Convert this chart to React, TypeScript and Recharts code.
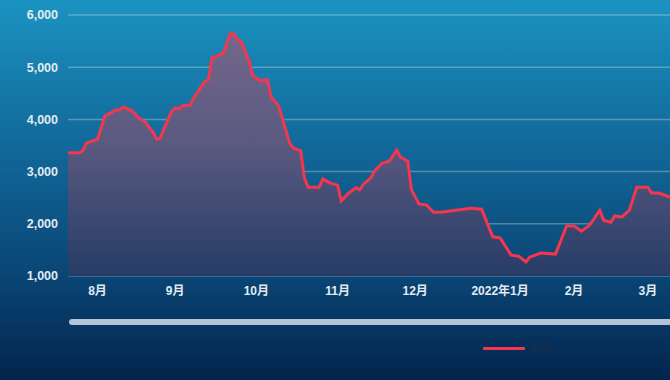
import React from 'react';
import { AreaChart, Area, XAxis, YAxis, CartesianGrid } from 'recharts';

// trading-day index and BDI close
const dayIndex = [
  0, 3, 4, 5, 8, 10, 11, 13, 14, 15,
  17, 18, 19, 21, 22, 23, 24, 25, 26, 28,
  29, 30, 31, 33, 34, 36, 37, 38, 39, 40,
  42, 44, 45, 46, 47, 48, 49, 50, 52, 54,
  55, 57, 60, 61, 63, 64, 65, 68, 69, 71,
  73, 74, 76, 78, 79, 80, 82, 83, 85, 87,
  89, 90, 92, 93, 95, 97, 99, 101, 109, 112,
  115, 117, 120, 122, 124, 125, 128, 132, 135, 137,
  139, 141, 142, 144, 145, 147, 148, 150, 152, 154,
  157, 158, 160, 163,
];
const bdi = [
  3360, 3360, 3400, 3550, 3620, 4070, 4100, 4180, 4180, 4240,
  4180, 4120, 4030, 3950, 3840, 3760, 3620, 3640, 3830, 4140,
  4220, 4200, 4260, 4270, 4410, 4620, 4720, 4760, 5180, 5200,
  5270, 5650, 5630, 5520, 5480, 5300, 5140, 4850, 4740, 4760,
  4430, 4260, 3550, 3450, 3400, 2880, 2700, 2700, 2860, 2780,
  2740, 2440, 2590, 2690, 2650, 2760, 2880, 3010, 3160, 3200,
  3410, 3280, 3200, 2650, 2380, 2360, 2220, 2220, 2300, 2280,
  1750, 1730, 1400, 1380, 1270, 1360, 1440, 1420, 1960, 1960,
  1860, 1960, 2050, 2260, 2070, 2030, 2150, 2130, 2260, 2700,
  2700, 2590, 2590, 2510,
];
const monthTicks = [8, 29, 51, 73, 94, 117, 137, 157];
const monthLabels = ['8月', '9月', '10月', '11月', '12月', '2022年1月', '2月', '3月'];
const yTicks = [1000, 2000, 3000, 4000, 5000, 6000];

const data = dayIndex.map((i, k) => ({ i, bdi: bdi[k] }));

const font = '"Liberation Sans", "Noto Sans CJK SC", sans-serif';

export default function App() {
  return (
    <div
      style={{
        position: 'absolute',
        left: 0,
        top: 0,
        width: 670,
        height: 380,
        background: 'linear-gradient(180deg, #1b93c1 0%, #11699a 38%, #0a4676 72%, #03244c 100%)',
        fontFamily: font,
        overflow: 'hidden',
      }}
    >
      <AreaChart width={670} height={380} data={data} margin={{ top: 15, right: 0, left: 0, bottom: 74 }}>
        <defs>
          <linearGradient id="bdiFill" gradientUnits="userSpaceOnUse" x1="0" y1="15" x2="0" y2="276">
            <stop offset="0%" stopColor="#786a8c" />
            <stop offset="50%" stopColor="#5a5980" />
            <stop offset="100%" stopColor="#263c66" />
          </linearGradient>
        </defs>
        <CartesianGrid vertical={false} stroke="rgba(255,255,255,0.28)" strokeWidth={1.5} />
        <XAxis
          dataKey="i"
          type="number"
          domain={[0, 163]}
          ticks={monthTicks}
          tickFormatter={(v) => monthLabels[monthTicks.indexOf(v)]}
          axisLine={false}
          tickLine={false}
          tickSize={0}
          tickMargin={10}
          height={30}
          tick={{ fill: '#e3eaf1', fontSize: 12, fontWeight: 600, fontFamily: font }}
        />
        <YAxis
          domain={[1000, 6000]}
          ticks={yTicks}
          tickFormatter={(v) => v.toLocaleString('en-US')}
          axisLine={false}
          tickLine={false}
          tickSize={0}
          tickMargin={10}
          width={68}
          tick={{ fill: '#e3eaf1', fontSize: 12.5, fontWeight: 600, fontFamily: font }}
        />
        <Area
          type="linear"
          dataKey="bdi"
          stroke="#f4364f"
          strokeWidth={3}
          fill="url(#bdiFill)"
          fillOpacity={1}
          dot={false}
          activeDot={false}
          isAnimationActive={false}
        />
      </AreaChart>
      {/* slider bar */}
      <div
        style={{
          position: 'absolute',
          left: 69,
          top: 319,
          width: 605,
          height: 6,
          borderRadius: 3,
          background: '#b3c4d6',
        }}
      />
      {/* legend */}
      <div style={{ position: 'absolute', left: 483, top: 341, display: 'flex', alignItems: 'center' }}>
        <div style={{ width: 42, height: 3, background: '#f4364f', borderRadius: 1 }} />
        <span style={{ marginLeft: 6, fontSize: 12, color: '#1d2c47' }}>BDI</span>
      </div>
    </div>
  );
}
